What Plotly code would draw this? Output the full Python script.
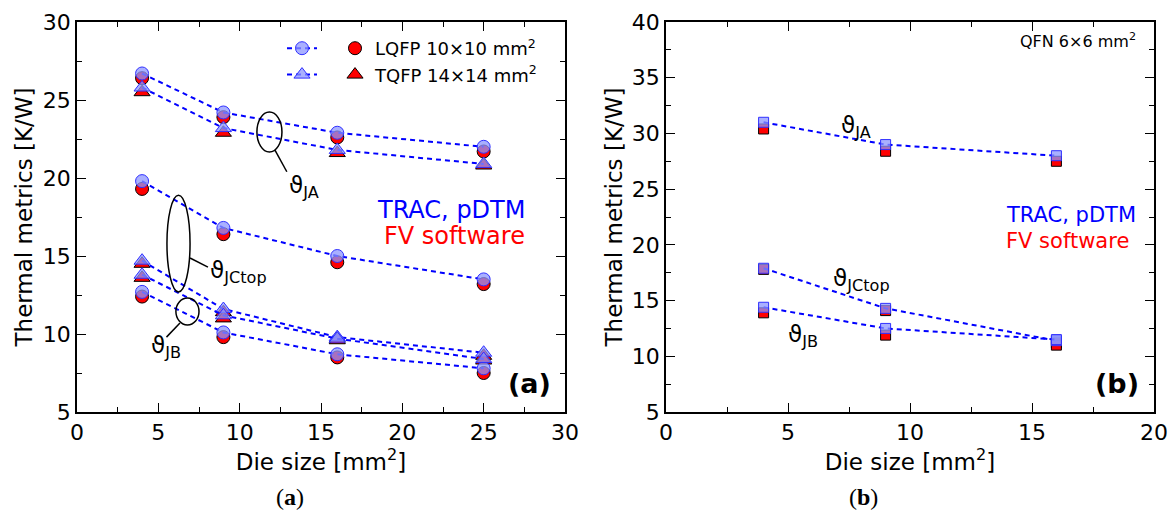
import plotly.graph_objects as go

# ---------------- data ----------------
die_a = [4, 9, 16, 25]
lqfp_ja_trac = [26.7, 24.2, 22.9, 22.0]
lqfp_ja_fv = [26.4, 23.9, 22.6, 21.7]
tqfp_ja_trac = [25.8, 23.2, 21.8, 20.9]
tqfp_ja_fv = [25.5, 22.9, 21.6, 20.8]
lqfp_jc_trac = [19.8, 16.8, 15.0, 13.5]
lqfp_jc_fv = [19.3, 16.4, 14.6, 13.2]
tqfp_jc_trac = [14.7, 11.6, 9.8, 8.8]
tqfp_jc_fv = [14.5, 11.4, 9.7, 8.6]
tqfp_jb_trac = [13.8, 11.2, 9.7, 8.4]
tqfp_jb_fv = [13.6, 11.0, 9.6, 8.3]
lqfp_jb_trac = [12.7, 10.1, 8.7, 7.8]
lqfp_jb_fv = [12.4, 9.8, 8.5, 7.5]

die_b = [4, 9, 16]
qfn_ja_trac = [31.0, 29.0, 28.0]
qfn_ja_fv = [30.4, 28.4, 27.5]
qfn_jc_trac = [17.9, 14.3, 11.4]
qfn_jc_fv = [17.8, 14.1, 11.2]
qfn_jb_trac = [14.4, 12.5, 11.5]
qfn_jb_fv = [13.9, 11.9, 11.0]

legend_names = ["LQFP 10×10 mm<sup>2</sup>", "TQFP 14×14 mm<sup>2</sup>"]

BLUE = "#0000ff"
RED = "#ff0000"
BLUE_FILL = "rgba(140,150,255,0.75)"
FONT = "DejaVu Sans"

fig = go.Figure()

# red (FV software) markers first
def red(x, y, sym, size, xa, ya, show=False, name=None):
    fig.add_trace(go.Scatter(
        x=x, y=y, mode="markers", xaxis=xa, yaxis=ya,
        marker=dict(symbol=sym, size=size, color=RED, line=dict(color="black", width=1)),
        showlegend=show, name=name if name else "FV", legend="legend2"))

def blue(x, y, sym, size, xa, ya, show=False):
    fig.add_trace(go.Scatter(
        x=x, y=y, mode="lines+markers", xaxis=xa, yaxis=ya,
        line=dict(color=BLUE, width=2, dash="5px,4px"),
        marker=dict(symbol=sym, size=size, color=BLUE_FILL, line=dict(color="#3030ff", width=1)),
        showlegend=show, name=" ", legend="legend"))

red(die_a, lqfp_ja_fv, "circle", 13, "x", "y", True, legend_names[0])
red(die_a, tqfp_ja_fv, "triangle-up", 14, "x", "y", True, legend_names[1])
for ys in [lqfp_jc_fv, lqfp_jb_fv]:
    red(die_a, ys, "circle", 13, "x", "y")
for ys in [tqfp_jc_fv, tqfp_jb_fv]:
    red(die_a, ys, "triangle-up", 14, "x", "y")
for ys in [qfn_ja_fv, qfn_jc_fv, qfn_jb_fv]:
    red(die_b, ys, "square", 10, "x2", "y2")

blue(die_a, lqfp_ja_trac, "circle", 13, "x", "y", True)
blue(die_a, tqfp_ja_trac, "triangle-up", 14, "x", "y", True)
for ys in [lqfp_jc_trac, lqfp_jb_trac]:
    blue(die_a, ys, "circle", 13, "x", "y")
for ys in [tqfp_jc_trac, tqfp_jb_trac]:
    blue(die_a, ys, "triangle-up", 14, "x", "y")
for ys in [qfn_ja_trac, qfn_jc_trac, qfn_jb_trac]:
    blue(die_b, ys, "square", 10, "x2", "y2")

W, H = 1173, 517
def ax(rng, domain, anchor, title, standoff):
    return dict(
        range=rng, domain=domain, anchor=anchor, automargin=False,
        showline=True, linecolor="black", linewidth=1.5, mirror="ticks",
        ticks="inside", ticklen=9, tickwidth=1.2, tickcolor="black",
        tick0=0, dtick=5,
        minor=dict(ticks="inside", ticklen=5, tickwidth=1.2, tickcolor="black", dtick=2.5),
        showgrid=False, zeroline=False,
        tickfont=dict(family=FONT, size=22, color="black"),
        title=dict(text=title, font=dict(family=FONT, size=23, color="black"), standoff=standoff),
    )

ydom = [1 - 412 / H, 1 - 22 / H]
fig.update_layout(
    width=W, height=H, autosize=False,
    margin=dict(l=0, r=0, t=0, b=0, autoexpand=False),
    paper_bgcolor="white", plot_bgcolor="white",
    font=dict(family=FONT, color="black"),
    xaxis=ax([0, 30], [77 / W, 565 / W], "y", "Die size [mm<sup>2</sup>]", 8),
    yaxis=ax([5, 30], ydom, "x", "Thermal metrics [K/W]", 4),
    xaxis2=ax([0, 20], [666 / W, 1154 / W], "y2", "Die size [mm<sup>2</sup>]", 8),
    yaxis2=ax([5, 40], ydom, "x2", "Thermal metrics [K/W]", 3),
    legend=dict(x=282 / W, y=1 - 30 / H, xanchor="left", yanchor="top",
                bgcolor="rgba(0,0,0,0)", font=dict(family=FONT, size=18),
                itemwidth=30, tracegroupgap=0),
    legend2=dict(x=335 / W, y=1 - 30 / H, xanchor="left", yanchor="top",
                 bgcolor="rgba(0,0,0,0)", font=dict(family=FONT, size=18),
                 itemwidth=30, tracegroupgap=0),
)

# annotations (labels)
ann = []
def txt(x, y, s, xr, yr, size=22, color="black", xanchor="left"):
    ann.append(dict(x=x, y=y, xref=xr, yref=yr, text=s, showarrow=False,
                    xanchor=xanchor, yanchor="middle",
                    font=dict(family=FONT, size=size, color=color)))

txt(12.9, 19.4, "ϑ<sub>JA</sub>", "x", "y", 23)
txt(8.05, 13.95, "ϑ<sub>JCtop</sub>", "x", "y", 23)
txt(4.45, 9.15, "ϑ<sub>JB</sub>", "x", "y", 23)
txt(23.0, 17.95, "TRAC, pDTM", "x", "y", 24, BLUE, "center")
txt(23.2, 16.3, "FV software", "x", "y", 24, RED, "center")
txt(27.8, 6.85, "<b>(a)</b>", "x", "y", 27, "black", "center")

txt(7.1, 30.6, "ϑ<sub>JA</sub>", "x2", "y2", 23)
txt(6.75, 16.85, "ϑ<sub>JCtop</sub>", "x2", "y2", 23)
txt(4.9, 11.8, "ϑ<sub>JB</sub>", "x2", "y2", 23)
txt(13.85, 22.7, "TRAC, pDTM", "x2", "y2", 21, BLUE, "left")
txt(13.85, 20.35, "FV software", "x2", "y2", 21, RED, "left")
txt(18.5, 7.6, "<b>(b)</b>", "x2", "y2", 27, "black", "center")
txt(19.35, 38.3, "QFN 6×6 mm<sup>2</sup>", "x2", "y2", 16, "black", "right")

for cx, lab in [(290, "a"), (863, "b")]:
    ann.append(dict(x=cx / W, y=1 - 497 / H, xref="paper", yref="paper",
                    text=f"(<b>{lab}</b>)", showarrow=False,
                    xanchor="center", yanchor="middle",
                    font=dict(family="Liberation Serif", size=24, color="black")))
fig.update_layout(annotations=ann)

# ellipses and leader lines
ellipses = [(11.06, 12.6, 21.67, 24.23), (5.53, 6.95, 12.7, 18.9), (6.08, 7.5, 10.58, 12.3)]
leaders = [(12.17, 21.79, 12.9, 20.4), (6.95, 14.87, 8.05, 14.29), (6.33, 10.7, 5.5, 9.8)]
shapes = []
for x0, x1, y0, y1 in ellipses:
    shapes.append(dict(type="circle", xref="x", yref="y", x0=x0, x1=x1, y0=y0, y1=y1,
                       line=dict(color="black", width=1.5)))
for x0, y0, x1, y1 in leaders:
    shapes.append(dict(type="line", xref="x", yref="y", x0=x0, y0=y0, x1=x1, y1=y1,
                       line=dict(color="black", width=1.5)))
fig.update_layout(shapes=shapes)

fig.write_html("out.html")
